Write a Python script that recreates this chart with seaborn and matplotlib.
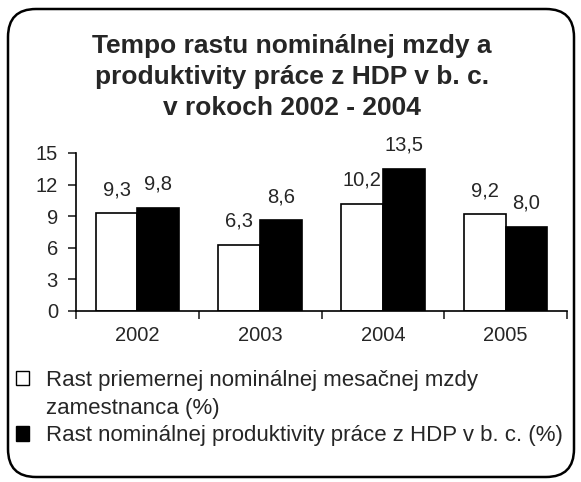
import matplotlib
matplotlib.use("Agg")
import matplotlib.pyplot as plt
from matplotlib.patches import FancyBboxPatch, Patch
from matplotlib.ticker import FixedLocator
import seaborn as sns
import pandas as pd

# ---- data ----
years = ["2002", "2003", "2004", "2005"]
wage_growth = [9.3, 6.3, 10.2, 9.2]
productivity_growth = [9.8, 8.6, 13.5, 8.0]
series_names = [
    "Rast priemernej nominálnej mesačnej mzdy\nzamestnanca (%)",
    "Rast nominálnej produktivity práce z HDP v b. c. (%)",
]
title_text = "Tempo rastu nominálnej mzdy a\nproduktivity práce z HDP v b. c.\nv rokoch 2002 - 2004"
yticks = [0, 3, 6, 9, 12, 15]

df = pd.DataFrame({
    "year": years * 2,
    "value": wage_growth + productivity_growth,
    "series": [series_names[0]] * len(years) + [series_names[1]] * len(years),
})

sns.set_style("white")
plt.rcParams["font.family"] = ["Liberation Sans", "DejaVu Sans"]

W, H = 581, 482
fig = plt.figure(figsize=(W / 100, H / 100), dpi=100, facecolor="white")

# rounded frame
frame = FancyBboxPatch((8 / 100, 5 / 100), (574 - 8) / 100, (473 - 5) / 100,
                       boxstyle="round,pad=0,rounding_size=0.28",
                       transform=fig.dpi_scale_trans, facecolor="none",
                       edgecolor="black", linewidth=1.8, zorder=-1)
fig.patches.append(frame)

ax = fig.add_axes([76 / W, (H - 311) / H, (567 - 76) / W, (311 - 153) / H])
ax.set_facecolor("none")

sns.barplot(data=df, x="year", y="value", hue="series",
            palette=["white", "black"], edgecolor="black", linewidth=1.2,
            width=0.68, gap=0, legend=False, ax=ax, saturation=1)

for cont in ax.containers:
    ax.bar_label(cont, labels=[f"{v:.1f}".replace(".", ",") for v in cont.datavalues],
                 padding=10, fontsize=14.5)

ax.set_ylim(0, 15)
ax.set_xlim(-0.5, len(years) - 0.5)
ax.set_yticks(yticks)
ax.set_yticklabels([str(t) for t in yticks])
ax.set_xlabel("")
ax.set_ylabel("")
ax.xaxis.set_minor_locator(FixedLocator([i - 0.5 for i in range(len(years) + 1)]))
ax.tick_params(axis="x", which="major", length=0, pad=11, labelsize=14.5)
ax.tick_params(axis="x", which="minor", length=6, width=1.2, direction="out", bottom=True)
ax.tick_params(axis="y", which="major", length=6, width=1.2, direction="out", left=True,
               pad=7, labelsize=14.5)
for s in ["top", "right"]:
    ax.spines[s].set_visible(False)
for s in ["left", "bottom"]:
    ax.spines[s].set_color("black")
    ax.spines[s].set_linewidth(1.2)

fig.text(292 / W, (H - 77) / H, title_text, ha="center", va="center",
         fontsize=19, fontweight="bold", linespacing=1.38)

handles = [Patch(facecolor="white", edgecolor="black", linewidth=1.0),
           Patch(facecolor="none", edgecolor="none"),
           Patch(facecolor="black", edgecolor="black", linewidth=1.0)]
lines1 = series_names[0].split("\n")
labels = [lines1[0], lines1[1], series_names[1]]
fig.legend(handles, labels, loc="upper left", bbox_to_anchor=(16 / W, (H - 370) / H),
           frameon=False, fontsize=16, handlelength=0.6, handleheight=0.6,
           handletextpad=0.75, labelspacing=0.3, borderpad=0, borderaxespad=0)

fig.savefig("out.png", dpi=100, facecolor="white")
